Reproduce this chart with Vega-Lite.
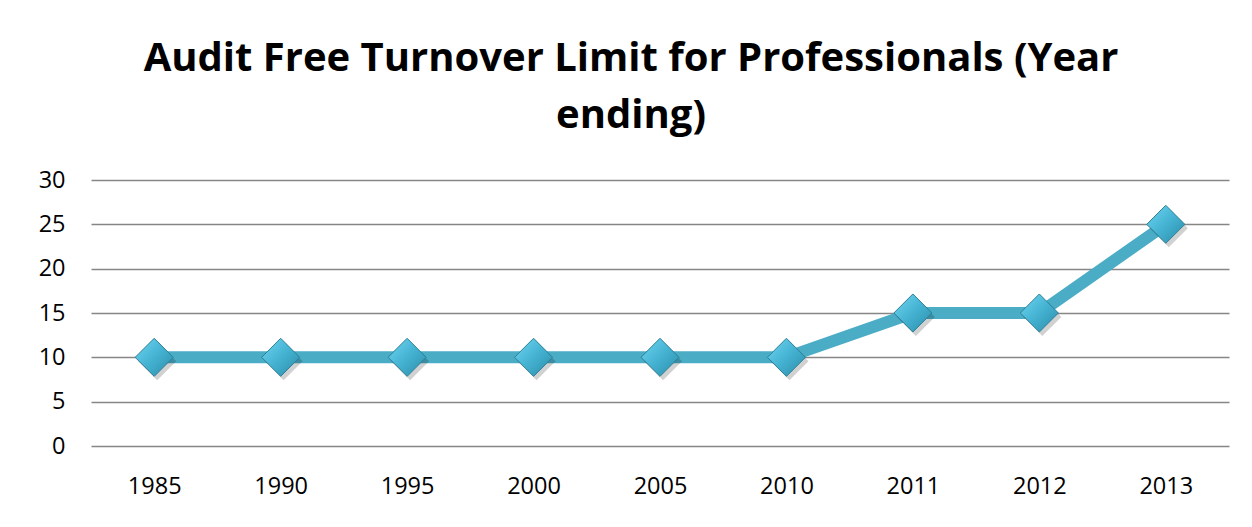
{
  "$schema": "https://vega.github.io/schema/vega-lite/v6.json",
  "width": 1138,
  "height": 266,
  "autosize": {"type": "none"},
  "padding": {"left": 91, "top": 180, "right": 23, "bottom": 81},
  "background": "white",
  "title": {
    "text": ["Audit Free Turnover Limit for Professionals (Year", "ending)"],
    "font": "Open Sans",
    "fontSize": 40,
    "fontWeight": "bold",
    "color": "#000000",
    "anchor": "middle",
    "dx": -29,
    "baseline": "alphabetic",
    "offset": 0,
    "lineHeight": 57
  },
  "data": {
    "values": [
      {"year": "1985", "limit": 10},
      {"year": "1990", "limit": 10},
      {"year": "1995", "limit": 10},
      {"year": "2000", "limit": 10},
      {"year": "2005", "limit": 10},
      {"year": "2010", "limit": 10},
      {"year": "2011", "limit": 15},
      {"year": "2012", "limit": 15},
      {"year": "2013", "limit": 25}
    ]
  },
  "encoding": {
    "x": {
      "field": "year",
      "type": "ordinal",
      "sort": null,
      "scale": {"type": "point", "padding": 0.5},
      "axis": {
        "title": null,
        "labelAngle": 0,
        "labelFont": "Open Sans",
        "labelFontSize": 23.5,
        "labelColor": "#000000",
        "labelPadding": 28,
        "ticks": false,
        "domain": false,
        "grid": false
      }
    },
    "y": {
      "field": "limit",
      "type": "quantitative",
      "scale": {"domain": [0, 30], "nice": false},
      "axis": {
        "title": null,
        "values": [0, 5, 10, 15, 20, 25, 30],
        "labelFont": "Open Sans",
        "labelFontSize": 23.5,
        "labelColor": "#000000",
        "labelPadding": 26,
        "ticks": false,
        "domain": false,
        "grid": true,
        "gridColor": "#868686",
        "gridWidth": 1.5
      }
    }
  },
  "layer": [
    {
      "mark": {"type": "line", "color": "#4BACC6", "strokeWidth": 12}
    },
    {
      "mark": {"type": "point", "shape": "diamond", "size": 1450, "filled": true, "color": "#000000", "opacity": 0.18, "xOffset": 3, "yOffset": 4}
    },
    {
      "mark": {
        "type": "point",
        "shape": "diamond",
        "size": 1450,
        "filled": true,
        "opacity": 1,
        "stroke": "#2C7F96",
        "strokeWidth": 1,
        "fill": {
          "gradient": "linear",
          "x1": 0, "y1": 0, "x2": 1, "y2": 1,
          "stops": [
            {"offset": 0, "color": "#6FD6F2"},
            {"offset": 0.5, "color": "#45B2D2"},
            {"offset": 1, "color": "#2A8CA8"}
          ]
        }
      }
    }
  ],
  "config": {"view": {"stroke": null}}
}
